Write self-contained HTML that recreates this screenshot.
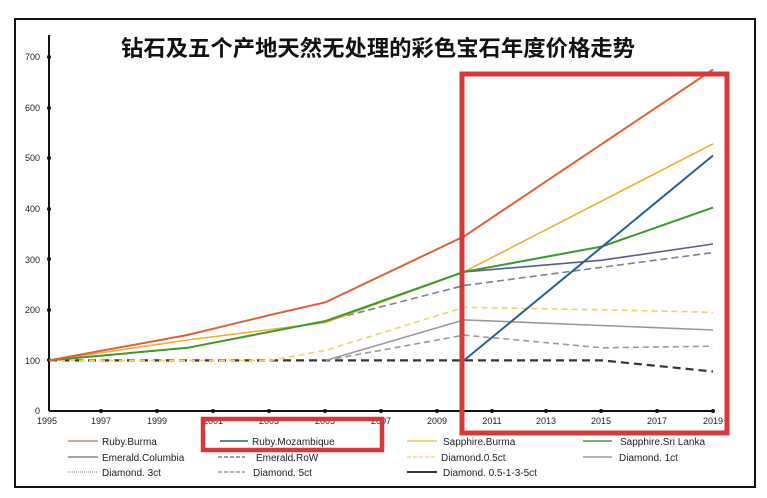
<!DOCTYPE html>
<html><head><meta charset="utf-8"><style>
body{margin:0;background:#fff;width:767px;height:498px;overflow:hidden}
svg{display:block;font-family:"Liberation Sans","Noto Sans CJK SC",sans-serif}
</style></head><body>
<svg width="767" height="498" viewBox="0 0 767 498">
<rect x="15" y="19" width="740" height="468" fill="#fff" stroke="#111" stroke-width="2"/>
<text x="121" y="56" font-size="22" font-weight="bold" textLength="514" lengthAdjust="spacingAndGlyphs" fill="#111" font-family="Liberation Sans,Noto Sans CJK SC,sans-serif">钻石及五个产地天然无处理的彩色宝石年度价格走势</text>
<g stroke="#111" stroke-width="2"><line x1="49" y1="35" x2="49" y2="411"/><line x1="49" y1="411" x2="714" y2="411"/></g>
<g font-size="9" fill="#222" text-anchor="end">
<text x="40" y="414">0</text><text x="40" y="364">100</text><text x="40" y="313">200</text><text x="40" y="263">300</text><text x="40" y="212">400</text><text x="40" y="161">500</text><text x="40" y="111">600</text><text x="40" y="60">700</text></g>
<g fill="#111"><circle cx="49" cy="360" r="2"/><circle cx="49" cy="310" r="2"/><circle cx="49" cy="259" r="2"/><circle cx="49" cy="209" r="2"/><circle cx="49" cy="158" r="2"/><circle cx="49" cy="108" r="2"/><circle cx="49" cy="57" r="2"/>
<circle cx="101" cy="411" r="2"/><circle cx="157" cy="411" r="2"/><circle cx="213" cy="411" r="2"/><circle cx="269" cy="411" r="2"/><circle cx="325" cy="411" r="2"/><circle cx="381" cy="411" r="2"/><circle cx="437" cy="411" r="2"/><circle cx="492" cy="411" r="2"/><circle cx="546" cy="411" r="2"/><circle cx="601" cy="411" r="2"/><circle cx="657" cy="411" r="2"/><circle cx="713" cy="411" r="2"/></g>
<g font-size="9" fill="#222" text-anchor="middle">
<text x="47" y="424">1995</text><text x="101" y="424">1997</text><text x="157" y="424">1999</text><text x="213" y="424">2001</text><text x="269" y="424">2003</text><text x="325" y="424">2005</text><text x="381" y="424">2007</text><text x="437" y="424">2009</text><text x="492" y="424">2011</text><text x="546" y="424">2013</text><text x="601" y="424">2015</text><text x="657" y="424">2017</text><text x="713" y="424">2019</text></g>
<g fill="none" stroke-width="1.6">
<polyline stroke="#333" stroke-width="2.2" stroke-dasharray="8,5" points="49,360.4 602,360.4 713,371.5"/>
<polyline stroke="#999" stroke-dasharray="6,4" points="325.7,360.4 464,335.1 602,347.8 713,346.2"/>
<polyline stroke="#999" points="325.7,360.4 464,319.9 713,330"/>
<polyline stroke="#f3d26a" stroke-dasharray="6,4" points="49,360.4 270.4,360.4 325.7,350.3 464,307.3 602,309.8 713,312.3"/>
<polyline stroke="#7a7f9f" stroke-dasharray="7,4" points="325.7,321 464,285.5 713,252.6"/>
<polyline stroke="#5a5a90" points="464,271.9 602,260.2 713,244"/>
<polyline stroke="#f0b030" points="49,360.4 187.4,340 325.7,322.5 464,271.9 713,143.8"/>
<polyline stroke="#3a9a2e" stroke-width="2" points="49,360.4 187.4,347.8 325.7,321 464,271.9 602,246.5 713,207.6"/>
<polyline stroke="#2a5f90" stroke-width="2" points="464,360.4 713,155.5"/>
<polyline stroke="#e0603a" stroke-width="2" points="49,360.4 187.4,335 270.4,314.9 325.7,302.2 464,236.4 713,69.5"/>
</g>
<rect x="462" y="74" width="265" height="359" fill="none" stroke="#d9383a" stroke-width="5"/>
<rect x="203" y="419" width="179" height="31" fill="none" stroke="#d9383a" stroke-width="4.5"/>
<g font-size="10" fill="#222">
<line x1="68" y1="441" x2="98" y2="441" stroke="#c89070" stroke-width="1.5"/><text x="102" y="445">Ruby.Burma</text>
<line x1="220" y1="441" x2="248" y2="441" stroke="#2e5f6f" stroke-width="1.5"/><text x="252" y="445">Ruby.Mozambique</text>
<line x1="407" y1="441" x2="437" y2="441" stroke="#f0c850" stroke-width="1.5"/><text x="443" y="445">Sapphire.Burma</text>
<line x1="583" y1="441" x2="612" y2="441" stroke="#4a9a4a" stroke-width="1.5"/><text x="620" y="445">Sapphire.Sri Lanka</text>
<line x1="68" y1="457" x2="98" y2="457" stroke="#888" stroke-width="1.5"/><text x="102" y="461">Emerald.Columbia</text>
<line x1="218" y1="457" x2="245" y2="457" stroke="#666" stroke-width="1.2" stroke-dasharray="4,2"/><text x="256" y="461">Emerald.RoW</text>
<line x1="407" y1="457" x2="437" y2="457" stroke="#f3d26a" stroke-width="1.2" stroke-dasharray="4,2"/><text x="441" y="461">Diamond.0.5ct</text>
<line x1="583" y1="457" x2="612" y2="457" stroke="#999" stroke-width="1.5"/><text x="619" y="461">Diamond. 1ct</text>
<line x1="68" y1="472" x2="98" y2="472" stroke="#999" stroke-width="1.2" stroke-dasharray="1,1"/><text x="102" y="476">Diamond. 3ct</text>
<line x1="218" y1="472" x2="245" y2="472" stroke="#888" stroke-width="1.2" stroke-dasharray="4,2"/><text x="253" y="476">Diamond. 5ct</text>
<line x1="407" y1="472" x2="437" y2="472" stroke="#333" stroke-width="2"/><text x="443" y="476">Diamond. 0.5-1-3-5ct</text>
</g>
</svg>
</body></html>
